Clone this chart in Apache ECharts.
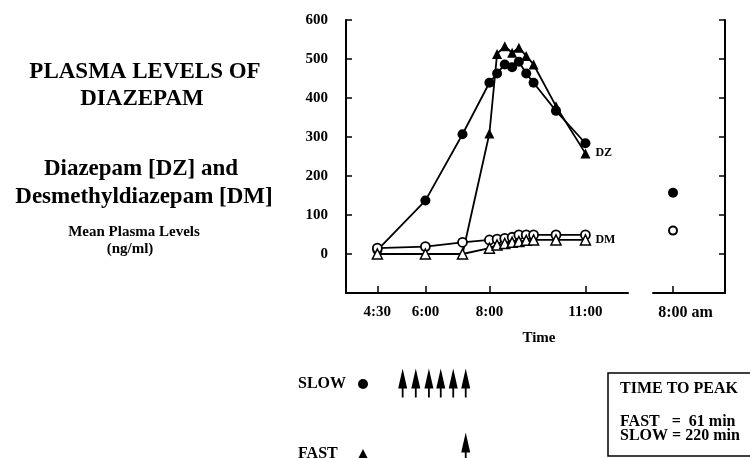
<!DOCTYPE html>
<html>
<head>
<meta charset="utf-8">
<script src="https://cdn.jsdelivr.net/npm/echarts@6/dist/echarts.min.js"></script>
<style>
  html, body { margin: 0; padding: 0; background: #fff; }
  #chart { width: 750px; height: 458px; }
</style>
</head>
<body>
<div id="chart"></div>
<script>
// times in hours (4.5 = 4:30)
var sampleTimes = [4.5, 6, 7.16, 8, 8.24, 8.48, 8.71, 8.92, 9.15, 9.38, 10.08, 11];
var slowDZ = [10, 137, 307, 439, 463, 486, 479, 493, 463, 439, 367, 284];
var fastDZ = [0, 0, 0, 309, 513, 533, 516, 529, 508, 486, 379, 258];
var slowDM = [15, 19, 30, 36, 38, 40, 43, 49, 49, 49, 49, 49];
var fastDM = [0, 0, 0, 15, 23, 27, 30, 32, 35, 36, 36, 36];

// next morning sample (8:00 am = 32 h)
var nextDayTime = 32;
var nextDayDZ = 157;
var nextDayDM = 60;

// dosing arrows
var slowDoses = [5.29, 5.70, 6.11, 6.48, 6.87, 7.26];
var fastDoses = [7.26];

var timeTicks = [4.5, 6, 8, 11];
var levelTicks = [0, 100, 200, 300, 400, 500, 600];

var serif = "'Liberation Serif', 'Times New Roman', serif";

function fmtTime(v) {
  var h = Math.floor(v + 1e-6);
  var m = Math.round((v - h) * 60);
  var s = (h >= 24 ? h - 24 : h) + ':' + (m < 10 ? '0' + m : m);
  return h >= 24 ? s + ' am' : s;
}

function pairs(xs, ys) {
  return xs.map(function (x, i) { return [x, ys[i]]; });
}

function legendFor(name, icon, top) {
  return {
    orient: 'vertical', left: 293, top: top, align: 'right',
    itemWidth: 10, itemHeight: 10,
    formatter: function (n) { return '{t|' + n + '}'; },
    textStyle: {
      color: '#000', fontFamily: serif, fontWeight: 'bold', fontSize: 16,
      rich: { t: { width: 55, align: 'left', color: '#000', fontFamily: serif, fontWeight: 'bold', fontSize: 16 } }
    },
    data: [{ name: name, icon: icon }],
    selectedMode: false
  };
}

function txt(x, y, text, size, align) {
  return { type: 'text', x: x, y: y, style: { text: text, font: 'bold ' + size + 'px ' + serif, align: align || 'center', verticalAlign: 'middle', fill: '#000' } };
}

var labelFont = { color: '#000', fontFamily: serif, fontWeight: 'bold', fontSize: 15 };
var arrowPath = 'path://M5,0 L10,20 L6,20 L6,29 L4,29 L4,20 L0,20 Z';

var chart = echarts.init(document.getElementById('chart'));
var option = {
  animation: false,
  backgroundColor: '#fff',
  grid: [
    { left: 346, top: 20, width: 282, height: 273 },
    { left: 653, top: 20, width: 72, height: 273 },
    { left: 346, top: 383, width: 282, height: 64 }
  ],
  xAxis: [
    {
      type: 'value', gridIndex: 0, min: 3.52, max: 12.33,
      axisLine: { show: true, onZero: false, lineStyle: { color: '#000', width: 2 } },
      axisTick: { show: true, inside: true, length: 7, customValues: timeTicks, lineStyle: { color: '#000', width: 1.5 } },
      axisLabel: Object.assign({ customValues: timeTicks, margin: 12, formatter: fmtTime }, labelFont),
      splitLine: { show: false }
    },
    {
      type: 'value', gridIndex: 1, min: 31.375, max: 33.625,
      axisLine: { show: true, onZero: false, lineStyle: { color: '#000', width: 2 } },
      axisTick: { show: true, inside: true, length: 7, customValues: [nextDayTime], lineStyle: { color: '#000', width: 1.5 } },
      axisLabel: Object.assign({
        customValues: [nextDayTime], margin: 12,
        formatter: function (v) { return '{a|' + fmtTime(v) + '}'; },
        rich: { a: Object.assign({ padding: [0, 0, 0, 25] }, labelFont, { fontSize: 16 }) }
      }, labelFont),
      splitLine: { show: false }
    },
    { type: 'value', gridIndex: 2, min: 3.52, max: 12.33, show: false }
  ],
  yAxis: [
    {
      type: 'value', gridIndex: 0, min: -100, max: 600,
      axisLine: { show: true, onZero: false, lineStyle: { color: '#000', width: 2 } },
      axisTick: { show: true, inside: true, length: 6, customValues: levelTicks, lineStyle: { color: '#000', width: 1.5 } },
      axisLabel: Object.assign({ customValues: levelTicks, margin: 18 }, labelFont),
      splitLine: { show: false }
    },
    {
      type: 'value', gridIndex: 1, min: -100, max: 600, position: 'right',
      axisLine: { show: true, onZero: false, lineStyle: { color: '#000', width: 2 } },
      axisTick: { show: true, inside: true, length: 6, customValues: levelTicks, lineStyle: { color: '#000', width: 1.5 } },
      axisLabel: { show: false },
      splitLine: { show: false }
    },
    { type: 'category', gridIndex: 2, data: ['FAST', 'SLOW'], boundaryGap: false, show: false }
  ],
  legend: [
    legendFor('SLOW', 'circle', 371),
    legendFor('FAST', 'triangle', 441)
  ],
  graphic: [
    txt(145, 72, 'PLASMA LEVELS OF', 23),
    txt(142, 99, 'DIAZEPAM', 23),
    txt(141, 169, 'Diazepam [DZ] and', 23),
    txt(144, 197, 'Desmethyldiazepam [DM]', 23),
    txt(134, 232, 'Mean Plasma Levels', 15),
    txt(130, 249, '(ng/ml)', 15),
    txt(539, 338, 'Time', 15),
    { type: 'rect', shape: { x: 608, y: 373, width: 160, height: 83 }, style: { fill: 'none', stroke: '#000', lineWidth: 1.5 } },
    txt(620, 389, 'TIME TO PEAK', 16, 'left'),
    txt(620, 422, 'FAST   =  61 min', 16, 'left'),
    txt(620, 436, 'SLOW = 220 min', 16, 'left')
  ],
  series: [
    {
      name: 'SLOW', type: 'line', xAxisIndex: 0, yAxisIndex: 0,
      data: pairs(sampleTimes, slowDZ),
      symbol: 'circle', symbolSize: 10,
      lineStyle: { color: '#000', width: 1.8 },
      itemStyle: { color: '#000' }
    },
    {
      name: 'FAST', type: 'line', xAxisIndex: 0, yAxisIndex: 0,
      data: pairs(sampleTimes, fastDZ),
      symbol: 'triangle', symbolSize: 10,
      lineStyle: { color: '#000', width: 1.8 },
      itemStyle: { color: '#000' },
      endLabel: { show: true, formatter: 'DZ', distance: 10, color: '#000', fontFamily: serif, fontWeight: 'bold', fontSize: 12 }
    },
    {
      name: 'SLOW DM', type: 'line', xAxisIndex: 0, yAxisIndex: 0,
      data: pairs(sampleTimes, slowDM),
      symbol: 'circle', symbolSize: 9,
      lineStyle: { color: '#000', width: 1.8 },
      itemStyle: { color: '#fff', borderColor: '#000', borderWidth: 1.8 }
    },
    {
      name: 'FAST DM', type: 'line', xAxisIndex: 0, yAxisIndex: 0,
      data: pairs(sampleTimes, fastDM),
      symbol: 'triangle', symbolSize: 10,
      lineStyle: { color: '#000', width: 1.8 },
      itemStyle: { color: '#fff', borderColor: '#000', borderWidth: 1.5 },
      endLabel: { show: true, formatter: 'DM', distance: 10, color: '#000', fontFamily: serif, fontWeight: 'bold', fontSize: 12 }
    },
    {
      name: 'SLOW DZ next day', type: 'scatter', xAxisIndex: 1, yAxisIndex: 1,
      data: [[nextDayTime, nextDayDZ]],
      symbol: 'circle', symbolSize: 10,
      itemStyle: { color: '#000', opacity: 1 }
    },
    {
      name: 'SLOW DM next day', type: 'scatter', xAxisIndex: 1, yAxisIndex: 1,
      data: [[nextDayTime, nextDayDM]],
      symbol: 'circle', symbolSize: 8,
      itemStyle: { color: '#fff', borderColor: '#000', borderWidth: 2, opacity: 1 }
    },
    {
      name: 'SLOW doses', type: 'scatter', xAxisIndex: 2, yAxisIndex: 2,
      data: slowDoses.map(function (t) { return [t, 'SLOW']; }),
      symbol: arrowPath, symbolSize: [9, 29],
      itemStyle: { color: '#000', opacity: 1 }
    },
    {
      name: 'FAST doses', type: 'scatter', xAxisIndex: 2, yAxisIndex: 2,
      data: fastDoses.map(function (t) { return [t, 'FAST']; }),
      symbol: arrowPath, symbolSize: [9, 29],
      itemStyle: { color: '#000', opacity: 1 }
    }
  ]
};
chart.setOption(option);
window.addEventListener('resize', function () { chart.resize(); });
</script>
</body>
</html>
